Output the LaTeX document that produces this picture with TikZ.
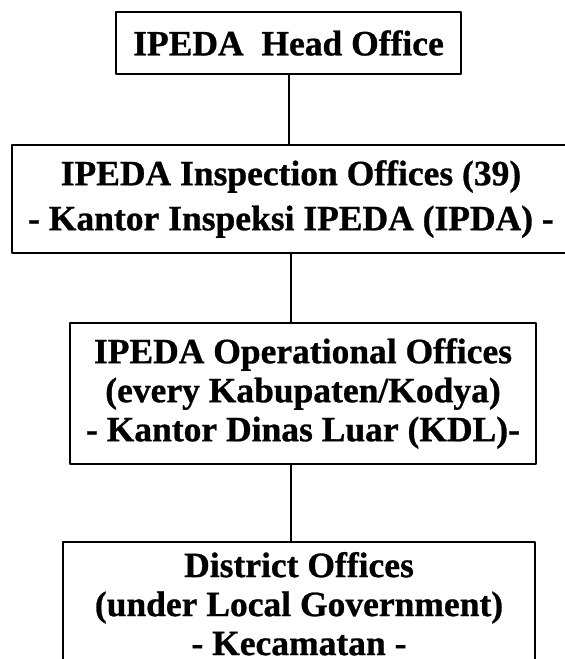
\documentclass[tikz,border=0pt]{standalone}
\usepackage{fontspec}
\setmainfont[BoldFeatures={FakeBold=0.8}]{Liberation Serif}
\begin{document}
\begin{tikzpicture}[line join=bevel,
    office/.style={draw=black,rectangle,line width=2.4bp,inner sep=0pt,align=center,
      font=\bfseries\fontsize{35.5bp}{39bp}\selectfont},]
    %%
    \useasboundingbox (0bp,0bp) rectangle (565bp,659bp);
    \clip (0bp,0bp) rectangle (565bp,659bp);
    \node (head) at (288.5bp,616.0bp) [office,minimum width=345bp,minimum height=62bp] {IPEDA\ \ Head Office};
    \node (insp) at (291.0bp,460.0bp) [office,minimum width=558bp,minimum height=108bp,
      font=\bfseries\fontsize{35.5bp}{45bp}\selectfont] {IPEDA Inspection Offices (39)\\- Kantor Inspeksi IPEDA (IPDA) -};
    \node (ops) at (303.0bp,265.5bp) [office,minimum width=466bp,minimum height=141bp] {IPEDA Operational Offices\\(every Kabupaten/Kodya)\\- Kantor Dinas Luar (KDL)-};
    \node (dist) at (299.0bp,55.25bp) [office,minimum width=472bp,minimum height=123.5bp] {District Offices\\(under Local Government)\\- Kecamatan -};
    \draw [line width=2bp] (head.south) -- (head.south |- insp.north);
    \draw [line width=2bp] (insp.south) -- (insp.south |- ops.north);
    \draw [line width=2bp] (insp.south |- ops.south) -- (insp.south |- dist.north);
    %
\end{tikzpicture}
\end{document}
